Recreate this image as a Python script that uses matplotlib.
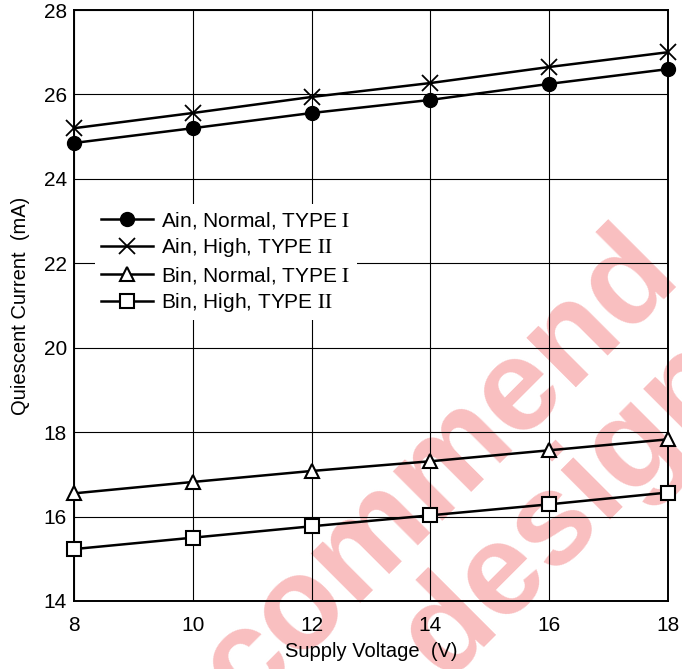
import numpy as np
import matplotlib
matplotlib.use('Agg')
import matplotlib.pyplot as plt

plt.rcParams['font.family'] = ['Liberation Sans', 'DejaVu Sans']
plt.rcParams['mathtext.fontset'] = 'stix'

# supply voltage (V)
voltage = [8, 10, 12, 14, 16, 18]

# quiescent current (mA)
ain_normal = [24.85, 25.20, 25.56, 25.87, 26.25, 26.60]
ain_high = [25.20, 25.56, 25.94, 26.27, 26.65, 27.00]
bin_normal = [16.55, 16.82, 17.08, 17.31, 17.57, 17.83]
bin_high = [15.23, 15.50, 15.77, 16.03, 16.29, 16.57]

labels = ['Ain, Normal, TYPE $\\mathrm{I}$',
          'Ain, High, TYPE $\\mathrm{II}$',
          'Bin, Normal, TYPE $\\mathrm{I}$',
          'Bin, High, TYPE $\\mathrm{II}$']

W, H = 682, 669
fig = plt.figure(figsize=(W / 100, H / 100), dpi=100)

# watermark, drawn behind the axes
wm_color = '#f9bfc0'
fig.text(464 / W, 1 - 494 / H, 'commend', rotation=45, rotation_mode='anchor',
         ha='center', va='baseline', fontsize=94, fontweight='bold',
         color=wm_color, zorder=-1)
fig.text(594 / W, 1 - 532 / H, 'design', rotation=45, rotation_mode='anchor',
         ha='center', va='baseline', fontsize=94, fontweight='bold',
         color=wm_color, zorder=-1)

ax = fig.add_axes([74 / W, 1 - 601 / H, 594 / W, 591 / H])
ax.set_facecolor('none')

lw = 1.8
ax.plot(voltage, ain_normal, '-o', color='black', lw=lw, ms=10,
        mfc='black', mec='black', label=labels[0], clip_on=False, zorder=5)
ax.plot(voltage, ain_high, '-x', color='black', lw=lw, ms=11, mew=1.3,
        label=labels[1], clip_on=False, zorder=5)
ax.plot(voltage, bin_normal, '-^', color='black', lw=lw, ms=10.5, mfc='white',
        mec='black', mew=1.5, label=labels[2], clip_on=False, zorder=5)
ax.plot(voltage, bin_high, '-s', color='black', lw=lw, ms=9.5, mfc='white',
        mec='black', mew=1.5, label=labels[3], clip_on=False, zorder=5)

ax.set_xlim(8, 18)
ax.set_ylim(14, 28)
ax.set_xticks(np.arange(8, 19, 2))
ax.set_yticks(np.arange(14, 29, 2))
ax.grid(True, color='black', lw=0.8)
ax.tick_params(length=0, labelsize=15)
ax.tick_params(axis='x', pad=11)
ax.tick_params(axis='y', pad=5)
for s in ax.spines.values():
    s.set_linewidth(1.4)

ax.set_xlabel('Supply Voltage  (V)', fontsize=14.5, labelpad=5)
ax.set_ylabel('Quiescent Current  (mA)', fontsize=14.5, labelpad=10)

leg = ax.legend(loc='upper left', bbox_to_anchor=(0.017, 0.69), frameon=True,
                fontsize=15, handlelength=2.5, handletextpad=0.4,
                labelspacing=0.26, borderpad=0.3, fancybox=False,
                edgecolor='none', facecolor='white', framealpha=1.0)

fig.savefig('out.png', dpi=100)
